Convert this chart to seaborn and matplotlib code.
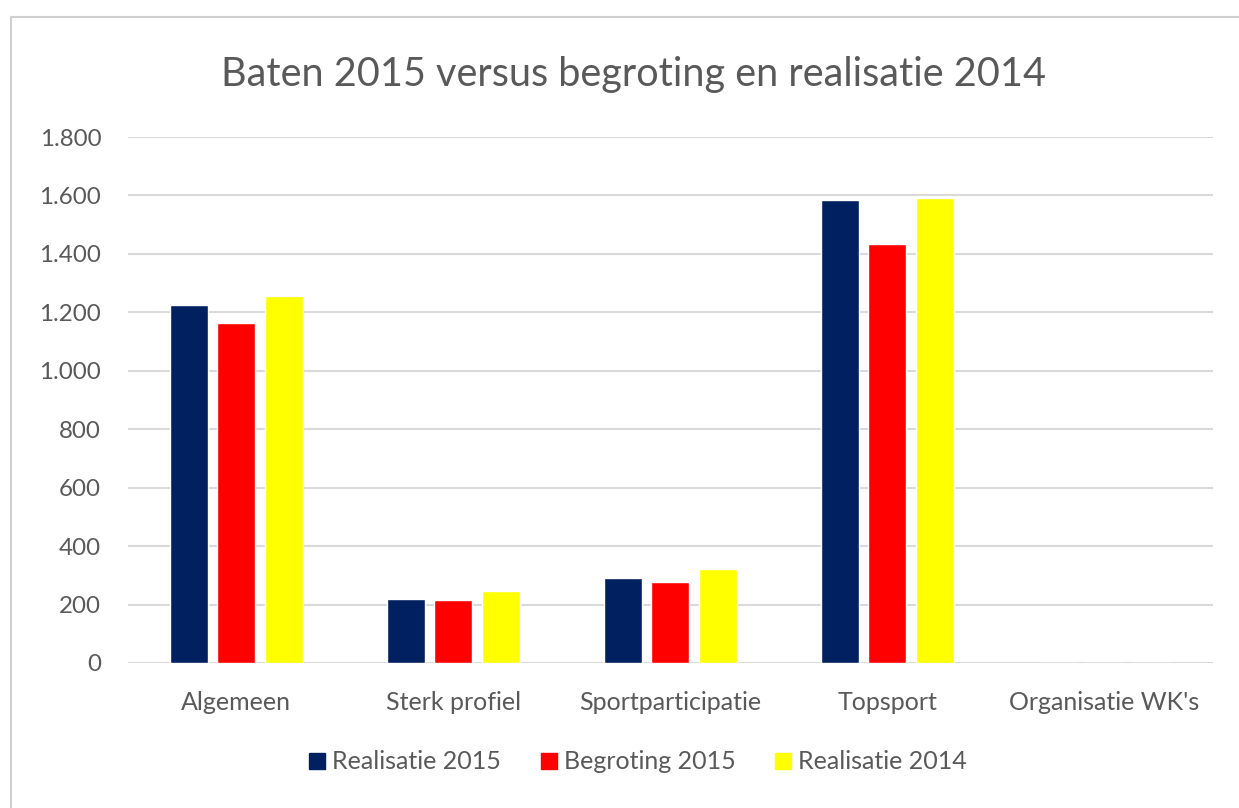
import matplotlib
matplotlib.use("Agg")
import matplotlib.pyplot as plt
import seaborn as sns
import pandas as pd
from matplotlib.ticker import FuncFormatter
from matplotlib.lines import Line2D

categories = ["Algemeen", "Sterk profiel", "Sportparticipatie", "Topsport", "Organisatie WK's"]
realisatie_2015 = [1224, 218, 292, 1585, 0]
begroting_2015 = [1163, 216, 277, 1433, 0]
realisatie_2014 = [1257, 247, 321, 1590, 0]
series_names = ["Realisatie 2015", "Begroting 2015", "Realisatie 2014"]
colors = ["#002060", "#FF0000", "#FFFF00"]

rows = []
for name, vals in zip(series_names, [realisatie_2015, begroting_2015, realisatie_2014]):
    for c, v in zip(categories, vals):
        rows.append({"cat": c, "serie": name, "val": v})
df = pd.DataFrame(rows)

sns.set_theme(style="white")
plt.rcParams['font.family'] = ['Lato', 'DejaVu Sans']

fig = plt.figure(figsize=(12.39, 8.08), dpi=100)
ax = fig.add_axes([0.103, 0.1795, 0.876, 0.6509])

sns.barplot(data=df, x="cat", y="val", hue="serie", order=categories,
            hue_order=series_names, palette=colors, width=0.657, gap=0.2,
            saturation=1, ax=ax, legend=False, errorbar=None)

ax.set_ylim(0, 1800)
ax.set_yticks(range(0, 1801, 200))
ax.yaxis.set_major_formatter(FuncFormatter(lambda v, p: f"{int(v):,}".replace(",", ".")))
ax.grid(axis="y", color="#d9d9d9", linewidth=1.5)
ax.set_axisbelow(True)
for s in ax.spines.values():
    s.set_visible(False)
ax.set_xlabel("")
ax.set_ylabel("")
ax.tick_params(axis="y", labelsize=17.4, colors="#595959", length=0, pad=19)
ax.tick_params(axis="x", labelsize=18, colors="#595959", length=0, pad=20)
ax.set_xlim(-0.5, 4.5)

fig.text(0.511, 0.908, "Baten 2015 versus begroting en realisatie 2014",
         ha="center", va="center", fontsize=28.5, color="#595959")

handles = [Line2D([0], [0], marker="s", linestyle="", markersize=12,
                  markerfacecolor=c, markeredgecolor=c) for c in colors]
fig.legend(handles, series_names, loc="center", bbox_to_anchor=(0.514, 0.057),
           ncol=3, frameon=False, fontsize=18, labelcolor="#595959",
           handletextpad=0.2, columnspacing=1.5, handlelength=0.8)

# chart border
fig.add_artist(Line2D([11/1239, 11/1239], [0, 1 - 17/808], color="#d0d0d0",
                      linewidth=1.5, transform=fig.transFigure))
fig.add_artist(Line2D([11/1239, 1], [1 - 17/808, 1 - 17/808], color="#d0d0d0",
                      linewidth=1.5, transform=fig.transFigure))

fig.savefig("out.png", dpi=100, facecolor="white")
